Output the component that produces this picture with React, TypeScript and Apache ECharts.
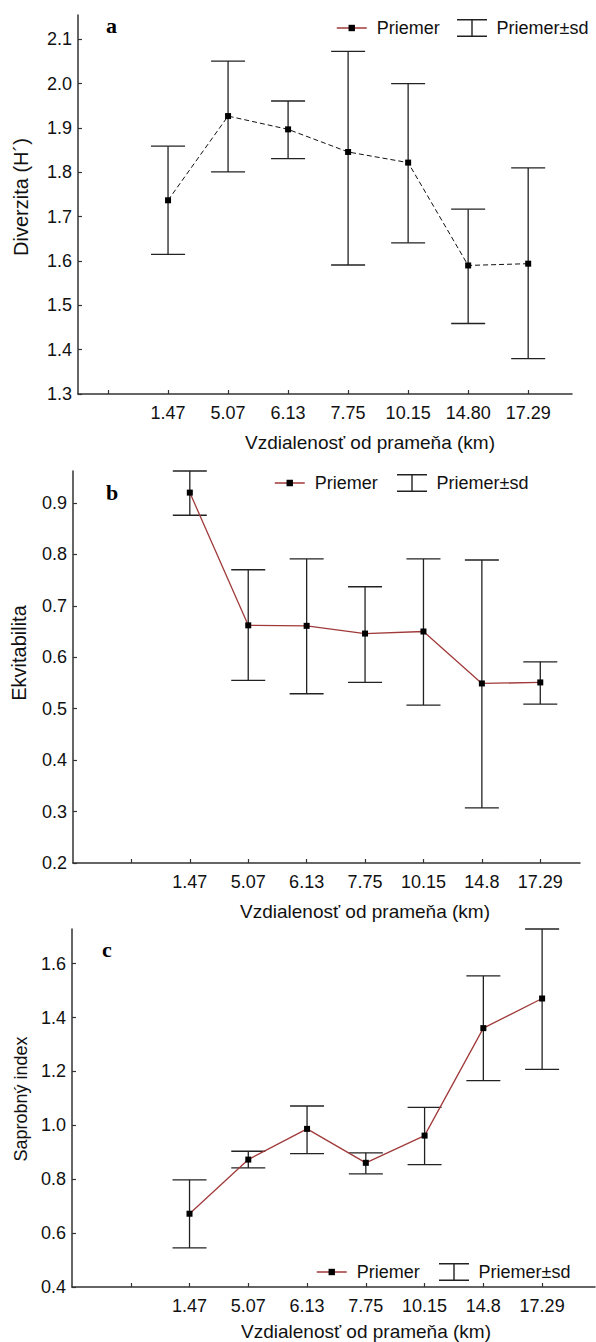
import React, { useEffect, useRef } from 'react';
import * as echarts from 'echarts';

// ---------- data ----------
const labelsA = ['1.47', '5.07', '6.13', '7.75', '10.15', '14.80', '17.29'];
const labelsBC = ['1.47', '5.07', '6.13', '7.75', '10.15', '14.8', '17.29'];
const positions = [1, 2, 3, 4, 5, 6, 7];
const tickPositions = [0, 1, 2, 3, 4, 5, 6, 7];

const diversityMean = [1.737, 1.927, 1.897, 1.846, 1.822, 1.59, 1.594];
const diversityLow = [1.615, 1.801, 1.831, 1.591, 1.641, 1.459, 1.38];
const diversityHigh = [1.859, 2.051, 1.961, 2.073, 2.0, 1.717, 1.81];

const evennessMean = [0.92, 0.662, 0.661, 0.646, 0.65, 0.549, 0.551];
const evennessLow = [0.876, 0.555, 0.529, 0.551, 0.507, 0.307, 0.509];
const evennessHigh = [0.962, 0.77, 0.791, 0.737, 0.791, 0.789, 0.591];

const saprobicMean = [0.672, 0.873, 0.987, 0.861, 0.962, 1.361, 1.471];
const saprobicLow = [0.545, 0.842, 0.895, 0.82, 0.854, 1.166, 1.208];
const saprobicHigh = [0.798, 0.904, 1.072, 0.898, 1.067, 1.555, 1.729];

const yTicksA = [1.3, 1.4, 1.5, 1.6, 1.7, 1.8, 1.9, 2.0, 2.1];
const yTicksB = [0.2, 0.3, 0.4, 0.5, 0.6, 0.7, 0.8, 0.9];
const yTicksC = [0.4, 0.6, 0.8, 1.0, 1.2, 1.4, 1.6];

const xTitle = 'Vzdialenosť od prameňa (km)';
const yTitleA = 'Diverzita (H´)';
const yTitleB = 'Ekvitabilita';
const yTitleC = 'Saprobný index';
const meanName = 'Priemer';
const sdName = 'Priemer±sd';

// ---------- styles ----------
const FONT = '"Liberation Sans", Arial, sans-serif';
const SERIF = '"Liberation Serif", "Times New Roman", serif';
const AXIS = '#333';
const TEXT = '#111';
const RED = '#a03a3a';
const ERR_ICON = 'path://M0,0H30V1.4H0ZM14.3,0H15.7V18H14.3ZM0,16.6H30V18H0Z';

function pairs(xs: number[], ys: number[]) {
  return xs.map((x, i) => [x, ys[i]]);
}
function bars(xs: number[], lo: number[], hi: number[]) {
  return xs.map((x, i) => [x, lo[i], hi[i]]);
}

function errorRender(capHalf: number) {
  return (params: any, api: any) => {
    const x = api.value(0);
    const pLo = api.coord([x, api.value(1)]);
    const pHi = api.coord([x, api.value(2)]);
    const st = { stroke: '#222', lineWidth: 1.3, fill: null };
    return {
      type: 'group',
      children: [
        { type: 'line', shape: { x1: pLo[0], y1: pLo[1], x2: pHi[0], y2: pHi[1] }, style: st },
        { type: 'line', shape: { x1: pHi[0] - capHalf, y1: pHi[1], x2: pHi[0] + capHalf, y2: pHi[1] }, style: st },
        { type: 'line', shape: { x1: pLo[0] - capHalf, y1: pLo[1], x2: pLo[0] + capHalf, y2: pLo[1] }, style: st },
      ],
    };
  };
}

function xAxisOf(idx: number, min: number, max: number, labels: string[]) {
  return {
    type: 'value',
    gridIndex: idx,
    min,
    max,
    axisLine: { onZero: false, lineStyle: { color: AXIS, width: 1.5 } },
    axisTick: { inside: true, length: 4, customValues: tickPositions, lineStyle: { color: AXIS, width: 1.2 } },
    axisLabel: {
      customValues: positions,
      margin: 10,
      fontSize: 18,
      fontFamily: FONT,
      color: TEXT,
      formatter: (v: number) => labels[Math.round(v) - 1] ?? '',
    },
    splitLine: { show: false },
  };
}

function yAxisOf(idx: number, min: number, max: number, ticks: number[], digits: number) {
  return {
    type: 'value',
    gridIndex: idx,
    min,
    max,
    axisLine: { show: true, onZero: false, lineStyle: { color: AXIS, width: 1.5 } },
    axisTick: { show: true, inside: true, length: 4, customValues: ticks, lineStyle: { color: AXIS, width: 1.2 } },
    axisLabel: {
      customValues: ticks,
      margin: 6,
      fontSize: 18,
      fontFamily: FONT,
      color: TEXT,
      formatter: (v: number) => v.toFixed(digits),
    },
    splitLine: { show: false },
  };
}

function meanLegend(left: number, top: number) {
  return {
    left,
    top,
    padding: 0,
    orient: 'horizontal',
    itemWidth: 30,
    itemHeight: 8,
    selectedMode: false,
    textStyle: { fontSize: 18, fontFamily: FONT, color: TEXT, padding: [0, 0, 0, 5] },
    data: [{ name: meanName, itemStyle: { color: '#000' }, lineStyle: { color: RED, type: 'solid', width: 1.5 } }],
  };
}

function sdLegend(left: number, top: number) {
  return {
    left,
    top,
    padding: 0,
    orient: 'horizontal',
    itemWidth: 31,
    itemHeight: 18,
    selectedMode: false,
    textStyle: { fontSize: 18, fontFamily: FONT, color: TEXT, padding: [0, 0, 0, 4] },
    data: [{ name: sdName, icon: ERR_ICON, itemStyle: { color: '#222', borderWidth: 0 } }],
  };
}

function titleText(x: number, y: number, text: string, size: number, rotate = false) {
  return {
    type: 'text',
    x,
    y,
    rotation: rotate ? Math.PI / 2 : 0,
    style: {
      text,
      fontSize: size,
      fontFamily: FONT,
      fill: TEXT,
      textAlign: 'center',
      textVerticalAlign: 'middle',
      align: 'center',
      verticalAlign: 'middle',
    },
  };
}

function letterText(x: number, y: number, text: string) {
  return {
    type: 'text',
    x,
    y,
    style: {
      text,
      fontSize: 22,
      fontWeight: 'bold',
      fontFamily: SERIF,
      fill: '#000',
      textAlign: 'left',
      textVerticalAlign: 'middle',
      align: 'left',
      verticalAlign: 'middle',
    },
  };
}

export default function App() {
  const ref = useRef<HTMLDivElement>(null);
  useEffect(() => {
    if (!ref.current) return;
    const chart = echarts.init(ref.current, null, { renderer: 'svg' });
    const option: any = {
      animation: false,
      backgroundColor: '#fff',
      grid: [
        { left: 78, top: 15, width: 494, height: 379 },
        { left: 73, top: 471, width: 507, height: 392 },
        { left: 72, top: 929, width: 523, height: 358 },
      ],
      xAxis: [
        xAxisOf(0, -0.5, 7.73, labelsA),
        xAxisOf(1, -1.0, 7.68, labelsBC),
        xAxisOf(2, -1.0, 7.9, labelsBC),
      ],
      yAxis: [
        yAxisOf(0, 1.3, 2.155, yTicksA, 1),
        yAxisOf(1, 0.2, 0.962, yTicksB, 1),
        yAxisOf(2, 0.4, 1.729, yTicksC, 1),
      ],
      legend: [
        meanLegend(336, 19),
        sdLegend(457, 19),
        meanLegend(274, 474),
        sdLegend(397, 474),
        meanLegend(316, 1263),
        sdLegend(439, 1263),
      ],
      series: [
        {
          name: sdName, type: 'custom', xAxisIndex: 0, yAxisIndex: 0, z: 2,
          itemStyle: { color: '#222' },
          renderItem: errorRender(17),
          data: bars(positions, diversityLow, diversityHigh),
        },
        {
          name: meanName, type: 'line', xAxisIndex: 0, yAxisIndex: 0, z: 3,
          symbol: 'rect', symbolSize: 6,
          itemStyle: { color: '#000' },
          lineStyle: { color: '#111', width: 1, type: [5, 3] },
          data: pairs(positions, diversityMean),
        },
        {
          name: sdName, type: 'custom', xAxisIndex: 1, yAxisIndex: 1, z: 2,
          itemStyle: { color: '#222' },
          renderItem: errorRender(17),
          data: bars(positions, evennessLow, evennessHigh),
        },
        {
          name: meanName, type: 'line', xAxisIndex: 1, yAxisIndex: 1, z: 3,
          symbol: 'rect', symbolSize: 6,
          itemStyle: { color: '#000' },
          lineStyle: { color: RED, width: 1.3 },
          data: pairs(positions, evennessMean),
        },
        {
          name: sdName, type: 'custom', xAxisIndex: 2, yAxisIndex: 2, z: 2,
          itemStyle: { color: '#222' },
          renderItem: errorRender(17),
          data: bars(positions, saprobicLow, saprobicHigh),
        },
        {
          name: meanName, type: 'line', xAxisIndex: 2, yAxisIndex: 2, z: 3,
          symbol: 'rect', symbolSize: 6,
          itemStyle: { color: '#000' },
          lineStyle: { color: RED, width: 1.3 },
          data: pairs(positions, saprobicMean),
        },
      ],
      graphic: [
        titleText(370, 442, xTitle, 19),
        titleText(365, 911, xTitle, 19),
        titleText(366, 1331, xTitle, 19),
        titleText(21, 197, yTitleA, 20, true),
        titleText(19, 653, yTitleB, 20, true),
        titleText(21, 1099, yTitleC, 18, true),
        letterText(106, 25, 'a'),
        letterText(106, 492, 'b'),
        letterText(102, 949, 'c'),
      ],
    };
    chart.setOption(option);
    return () => chart.dispose();
  }, []);
  return (
    <div
      ref={ref}
      style={{ position: 'absolute', left: 0, top: 0, width: 596, height: 1342, background: '#fff' }}
    />
  );
}
